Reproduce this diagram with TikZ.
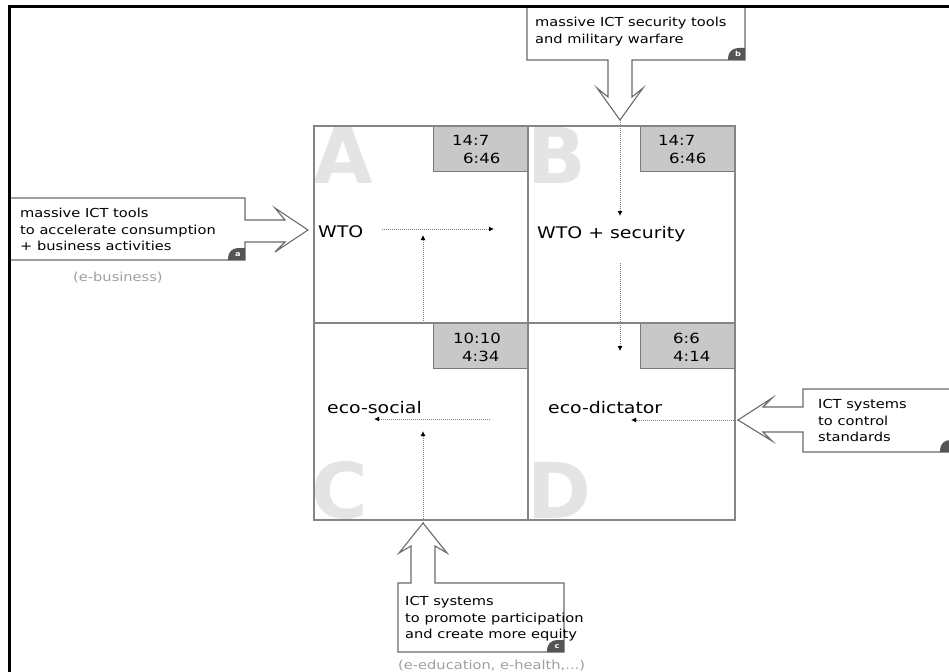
\documentclass[tikz,border=0pt]{standalone}
\usepackage{fontspec}
\setmainfont{DejaVu Sans}[FakeStretch=1.18]
\newfontfamily\bigletterfont{DejaVu Sans}
\usetikzlibrary{arrows.meta}
\definecolor{linegray}{HTML}{858585}
\definecolor{boxgray}{HTML}{C8C8C8}
\definecolor{boxedge}{HTML}{7A7A7A}
\definecolor{calloutedge}{HTML}{6A6A6A}
\definecolor{badgegray}{HTML}{555555}
\definecolor{dotgray}{HTML}{808080}
\definecolor{lettergray}{HTML}{E4E4E4}
\definecolor{notegray}{HTML}{A0A0A0}
\tikzset{
  frameline/.style={line width=3pt, black},
  cellline/.style={draw=linegray, line width=1.2pt},
  numbox/.style={fill=boxgray, draw=boxedge, line width=1pt},
  callout/.style={draw=calloutedge, fill=white, line width=1.1pt, line join=miter},
  badge/.style={fill=badgegray},
  flow/.style={draw=dotgray, line width=0.9pt, dash pattern=on 1pt off 1pt,
    -{Latex[length=5pt,width=5pt,color=black]}},
  txt/.style={anchor=base west, inner sep=0pt, font=\fontsize{12.4}{15}\selectfont, text=black},
  lbl/.style={anchor=base west, inner sep=0pt, font=\fontsize{16}{19}\selectfont, text=black},
  num/.style={anchor=base west, inner sep=0pt, font=\fontsize{14}{17}\selectfont, text=black},
  bigl/.style={anchor=base west, inner sep=0pt, font=\bigletterfont\bfseries\fontsize{77}{80}\selectfont, text=lettergray},
  note/.style={anchor=base west, inner sep=0pt, font=\fontsize{12.4}{15}\selectfont, text=notegray},
  badgetxt/.style={inner sep=0pt, font=\bfseries\fontsize{7}{8}\selectfont, text=white},
}
\begin{document}
\begin{tikzpicture}[x=1pt,y=-1pt]
\useasboundingbox (0,0) rectangle (949,671);
\clip (0,0) rectangle (949,671);
\fill[white] (0,0) rectangle (949,671);

% big quadrant letters
\node[bigl] (LA) at (313,183) {A};
\node[bigl] (LB) at (527,183) {B};
\node[bigl] (LC) at (311,518) {C};
\node[bigl] (LD) at (527,518) {D};

% grey number boxes
\draw[numbox] (433,126) rectangle (528,171);
\draw[numbox] (640,126) rectangle (735,171);
\draw[numbox] (433,323) rectangle (528,368);
\draw[numbox] (640,323) rectangle (735,368);
\node[num] (nA1) at (452,146) {14:7};
\node[num] (nA2) at (463,164) {6:46};
\node[num] (nB1) at (658,146) {14:7};
\node[num] (nB2) at (669,164) {6:46};
\node[num] (nC1) at (453,343) {10:10};
\node[num] (nC2) at (462,361) {4:34};
\node[num] (nD1) at (673,343) {6:6};
\node[num] (nD2) at (673,361) {4:14};

% quadrant lines
\draw[cellline] (314,126) rectangle (735,520);
\draw[cellline] (528,126) -- (528,520);
\draw[cellline] (314,323) -- (735,323);

% callout a (left)
\draw[callout] (10,198) -- (245,198) -- (245,220) -- (285,220) -- (275,208) -- (308,230)
  -- (275,252) -- (285,242) -- (245,242) -- (245,260) -- (10,260) -- cycle;
\fill[badge] (245,260) -- (228,260) -- (228,258) arc[start angle=180,end angle=270,radius=10] -- (245,248) -- cycle;
\node[badgetxt] (ba) at (238,255) {a};
\node[txt] (a1) at (20,217) {massive ICT tools};
\node[txt] (a2) at (20,234) {to accelerate consumption};
\node[txt] (a3) at (20,250) {+ business activities};
\node[note] (an) at (73,281) {(e-business)};
\coordinate (tipa) at (308,230);

% callout b (top)
\draw[callout] (527,7) -- (745,7) -- (745,60) -- (632,60) -- (632,97) -- (643,88) -- (620,120)
  -- (597,88) -- (608,97) -- (608,60) -- (527,60) -- cycle;
\fill[badge] (745,60) -- (728,60) -- (728,58) arc[start angle=180,end angle=270,radius=10] -- (745,48) -- cycle;
\node[badgetxt] (bb) at (738,54) {b};
\node[txt] (b1) at (535,27) {massive ICT security tools};
\node[txt] (b2) at (535,44) {and military warfare};
\coordinate (tipb) at (620,120);

% callout c (bottom)
\draw[callout] (398,583) -- (411,583) -- (411,546) -- (399,553) -- (423,523) -- (447,553)
  -- (435,546) -- (435,583) -- (564,583) -- (564,652) -- (398,652) -- cycle;
\fill[badge] (564,652) -- (547,652) -- (547,650) arc[start angle=180,end angle=270,radius=10] -- (564,640) -- cycle;
\node[badgetxt] (bc) at (557,647) {c};
\node[txt] (c1) at (405,605) {ICT systems};
\node[txt] (c2) at (405,622) {to promote participation};
\node[txt] (c3) at (405,638) {and create more equity};
\node[note] (cn) at (398,669) {(e-education, e-health,...)};
\coordinate (tipc) at (423,523);

% callout d (right), its badge cut off by the edge
\draw[callout] (803,389) -- (957,389) -- (957,452) -- (803,452) -- (803,432) -- (763,432)
  -- (772,441) -- (738,420) -- (772,398) -- (763,407) -- (803,407) -- cycle;
\fill[badge] (957,452) -- (940,452) -- (940,450) arc[start angle=180,end angle=270,radius=10] -- (957,440) -- cycle;
\node[txt] (d1) at (818,408) {ICT systems};
\node[txt] (d2) at (818,425) {to control};
\node[txt] (d3) at (818,441) {standards};
\coordinate (tipd) at (738,420);

% scenario labels
\node[lbl] (wto) at (318,237) {WTO};
\node[lbl] (wtos) at (537,238) {WTO + security};
\node[lbl] (ecos) at (327,413) {eco-social};
\node[lbl] (ecod) at (548,413) {eco-dictator};

% dotted flow arrows
\coordinate (f1s) at (382,229); \coordinate (f1e) at (494,229);
\coordinate (f2s) at (423,323); \coordinate (f2e) at (423,235);
\coordinate (f3e) at (620,216);
\coordinate (f4s) at (620,263); \coordinate (f4e) at (620,351);
\coordinate (f5s) at (490,419); \coordinate (f5e) at (374,419);
\coordinate (f6e) at (423,431);
\coordinate (f7e) at (631,420);
\draw[flow] (f1s) -- (f1e);
\draw[flow] (f2s) -- (f2e);
\draw[flow] (tipb) -- (f3e);
\draw[flow] (f4s) -- (f4e);
\draw[flow] (f5s) -- (f5e);
\draw[flow] (tipc) -- (f6e);
\draw[flow] (tipd) -- (f7e);

% outer frame
\draw[frameline] (9,675) -- (9,7) -- (955,7);
\end{tikzpicture}
\end{document}
